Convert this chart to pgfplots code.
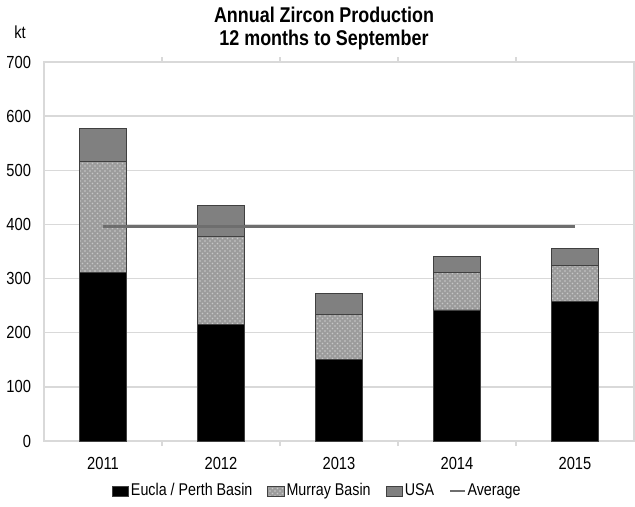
\documentclass[border=0pt]{standalone}
\usepackage{fontspec}
\setmainfont{Liberation Sans}[FakeStretch=0.84]
\usepackage{pgfplots}
\pgfplotsset{compat=1.18}
\usetikzlibrary{patterns}

\definecolor{usa}{HTML}{808080}
\definecolor{murray}{HTML}{9C9C9C}
\definecolor{avgline}{HTML}{6E6E6E}
\definecolor{gridc}{HTML}{D9D9D9}
\definecolor{edge}{HTML}{404040}

\pgfplotsset{
  eucla/.style={fill=black, draw=edge, line width=0.5pt},
  murraybar/.style={fill=murray, draw=edge, line width=0.5pt,
    postaction={pattern=crosshatch dots, pattern color=white!45!murray}},
  usabar/.style={fill=usa, draw=edge, line width=0.5pt},
  barlegend/.style={legend image code/.code={\draw[##1] (0pt,-3pt) rectangle (10pt,3pt);}},
  linelegend/.style={legend image code/.code={\draw[##1, line width=1pt] (0pt,0pt) -- (9pt,0pt);}},
  common/.style={
    scale only axis, width=354pt, height=227.4pt,
    at={(26.4pt,39pt)}, anchor=south west,
    xmin=-0.5, xmax=4.5, ymin=0, ymax=700,
  },
}

\begin{document}
\begin{tikzpicture}
\useasboundingbox (0,0) rectangle (381pt,303.6pt);
\begin{axis}[
  common,
  ybar stacked, bar width=0.4,
  xtick={0,...,4}, xticklabels={2011,2012,2013,2014,2015},
  major x tick style={draw=none},
  minor xtick={0.5,1.5,2.5,3.5},
  minor x tick style={gridc, line width=0.8pt},
  minor tick length=3pt, tick align=outside,
  ytick={0,100,...,700},
  y tick style={draw=none},
  ymajorgrids, grid style={gridc, line width=0.8pt},
  axis line style={gridc, line width=0.8pt},
  ticklabel style={font=\fontsize{10.5}{12}\selectfont},
  x tick label style={yshift=-2pt},
  /pgf/number format/assume math mode=true,
  clip=false,
]
% Eucla / Perth Basin
\addplot[eucla] coordinates {(0,311) (1,216) (2,150) (3,242) (4,257)};
% Murray Basin
\addplot[murraybar] coordinates {(0,206) (1,161) (2,83) (3,69) (4,67)};
% USA
\addplot[usabar] coordinates {(0,60) (1,58) (2,40) (3,30) (4,31)};

\node[font=\bfseries\fontsize{12.8}{14}\selectfont] at (rel axis cs:0.4746,1.124) {Annual Zircon Production};
\node[font=\bfseries\fontsize{12.8}{14}\selectfont] at (rel axis cs:0.4746,1.058) {12 months to September};
\node[font=\fontsize{10.5}{12}\selectfont] at (rel axis cs:-0.0407,1.079) {kt};
\end{axis}

\begin{axis}[
  common, hide axis,
  legend columns=-1,
  legend style={at={(0.4627,-0.132)}, anchor=center, draw=none, fill=none,
    font=\fontsize{10.2}{12}\selectfont,
    /tikz/every even column/.append style={column sep=8pt},
    nodes={inner sep=1pt}},
]
\addlegendimage{eucla, barlegend}
\addlegendentry{Eucla / Perth Basin}
\addlegendimage{murraybar, barlegend}
\addlegendentry{Murray Basin}
\addlegendimage{usabar, barlegend}
\addlegendentry{USA}
\addplot[avgline, line width=1.5pt, linelegend]
  coordinates {(0,396) (1,396) (2,396) (3,396) (4,396)};
\addlegendentry{Average}
\end{axis}
\end{tikzpicture}
\end{document}
